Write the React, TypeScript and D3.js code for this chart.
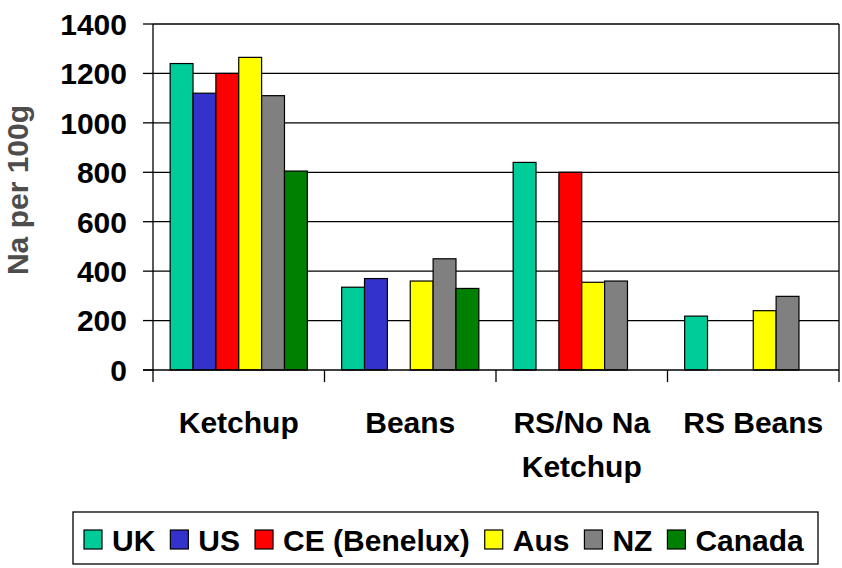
import React, { useEffect, useRef } from "react";
import * as d3 from "d3";

const categories = ["Ketchup", "Beans", "RS/No Na|Ketchup", "RS Beans"];
const seriesNames = ["UK", "US", "CE (Benelux)", "Aus", "NZ", "Canada"];
const seriesColors = ["#00CC99", "#3333CC", "#FF0000", "#FFFF00", "#808080", "#008000"];
const UK = [1240, 335, 840, 218];
const US = [1120, 370, null, null];
const CE = [1200, null, 800, null];
const Aus = [1265, 360, 355, 240];
const NZ = [1110, 450, 360, 298];
const Canada = [805, 330, null, null];
const yTicks = [0, 200, 400, 600, 800, 1000, 1200, 1400];
const yLabel = "Na per 100g";

const seriesValues = [UK, US, CE, Aus, NZ, Canada];

export default function App() {
  const ref = useRef<SVGSVGElement>(null);
  useEffect(() => {
    const svg = d3.select(ref.current);
    svg.selectAll("*").remove();
    const font = "'Liberation Sans', Arial, sans-serif";
    const fs = 30;
    const left = 153, right = 839, top = 24, bottom = 370;
    const x = d3.scaleBand().domain(categories).range([left, right]);
    const inner = d3.scaleBand().domain(seriesNames).range([0, x.bandwidth()]).paddingOuter(0.75).paddingInner(0);
    const y = d3.scaleLinear().domain([0, 1400]).range([bottom, top]);

    // gridlines
    svg.append("g").selectAll("line").data(yTicks.filter(t => t > 0)).join("line")
      .attr("x1", left).attr("x2", right)
      .attr("y1", d => y(d)).attr("y2", d => y(d))
      .attr("stroke", "#000").attr("stroke-width", 1.3);
    // right border
    svg.append("line").attr("x1", right).attr("x2", right).attr("y1", top).attr("y2", bottom)
      .attr("stroke", "#000").attr("stroke-width", 1.3);

    // bars
    seriesValues.forEach((vals, si) => {
      svg.append("g").selectAll("rect").data(vals.map((v, i) => ({ v, c: categories[i] })).filter(d => d.v != null)).join("rect")
        .attr("x", d => (x(d.c) as number) + (inner(seriesNames[si]) as number))
        .attr("width", inner.bandwidth())
        .attr("y", d => y(d.v as number))
        .attr("height", d => bottom - y(d.v as number))
        .attr("fill", seriesColors[si])
        .attr("stroke", "#000").attr("stroke-width", 1.2);
    });

    // y axis
    svg.append("line").attr("x1", left).attr("x2", left).attr("y1", top).attr("y2", bottom + 12)
      .attr("stroke", "#000").attr("stroke-width", 1.3);
    svg.append("g").selectAll("line").data(yTicks).join("line")
      .attr("x1", left - 10).attr("x2", left).attr("y1", d => y(d)).attr("y2", d => y(d))
      .attr("stroke", "#000").attr("stroke-width", 1.3);
    svg.append("g").selectAll("text").data(yTicks).join("text")
      .attr("x", 127).attr("y", d => y(d)).attr("dy", "0.36em")
      .attr("text-anchor", "end").attr("font-family", font).attr("font-weight", "bold")
      .attr("font-size", fs).attr("fill", "#000").text(d => String(d));

    // x axis
    svg.append("line").attr("x1", left - 10).attr("x2", right).attr("y1", bottom).attr("y2", bottom)
      .attr("stroke", "#000").attr("stroke-width", 1.3);
    const bounds = categories.map(c => (x(c) as number) + x.bandwidth());
    svg.append("g").selectAll("line").data(bounds).join("line")
      .attr("x1", d => d).attr("x2", d => d).attr("y1", bottom).attr("y2", bottom + 12)
      .attr("stroke", "#000").attr("stroke-width", 1.3);
    const xl = svg.append("g").selectAll("text").data(categories).join("text")
      .attr("text-anchor", "middle").attr("font-family", font).attr("font-weight", "bold")
      .attr("font-size", fs).attr("fill", "#000");
    xl.each(function (c) {
      const t = d3.select(this);
      c.split("|").forEach((line, i) => {
        t.append("tspan").attr("x", (x(c) as number) + x.bandwidth() / 2).attr("y", 433 + i * 44).text(line);
      });
    });

    // y label
    svg.append("text").attr("transform", "translate(28,190) rotate(-90)")
      .attr("text-anchor", "middle").attr("font-family", font).attr("font-weight", "bold")
      .attr("font-size", fs).attr("fill", "#4d4d4d").text(yLabel);

    // legend
    const lg = svg.append("g");
    lg.append("rect").attr("x", 73).attr("y", 512).attr("width", 745).attr("height", 52)
      .attr("fill", "#fff").attr("stroke", "#000").attr("stroke-width", 1.3);
    let cx = 84;
    seriesNames.forEach((n, i) => {
      lg.append("rect").attr("x", cx).attr("y", 530).attr("width", 18).attr("height", 19)
        .attr("fill", seriesColors[i]).attr("stroke", "#000").attr("stroke-width", 1.2);
      const t = lg.append("text").attr("x", cx + 28).attr("y", 551).attr("font-family", font)
        .attr("font-weight", "bold").attr("font-size", fs).attr("fill", "#000").text(n);
      const w = (t.node() as SVGTextElement).getComputedTextLength();
      cx = cx + 28 + w + 15;
    });
  }, []);
  return (
    <svg ref={ref} width={842} height={568} style={{ position: "absolute", left: 0, top: 0, background: "#fff" }} />
  );
}
